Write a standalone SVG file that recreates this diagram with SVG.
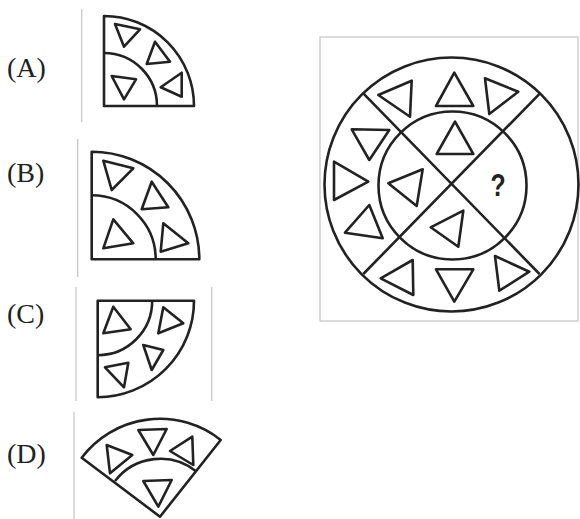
<svg xmlns="http://www.w3.org/2000/svg" width="580" height="519" viewBox="0 0 580 519">
<style>
.lbl{font-family:"Liberation Serif","Times New Roman",serif;font-size:28px;fill:#222}
.s{fill:none;stroke:#222;stroke-width:2.6;stroke-linejoin:round}
.t{fill:#fff;stroke:#222;stroke-width:2.6;stroke-linejoin:round}
.sep{stroke:#c8c8c8;stroke-width:1.3}
.q{font-family:"Liberation Sans",Arial,sans-serif;font-size:31px;font-weight:bold;fill:#222}
</style>
<rect width="580" height="519" fill="#fff"/>

<g id="optA">
<text class="lbl" x="7" y="77">(A)</text>
<line class="sep" x1="81.7" y1="9" x2="81.7" y2="122"/>
<path class="s" d="M104,106 V16 A90,90 0 0 1 194,106 Z"/>
<path class="s" d="M104,53 A53,53 0 0 1 157,106"/>
<polygon class="t" points="115,24 140,29.3 124,46.7"/>
<polygon class="t" points="155,41.7 146.7,64 170,61.7"/>
<polygon class="t" points="111.7,76 136,79.3 124,99.3"/>
<polygon class="t" points="160.7,87.3 181.7,72.7 181.7,96.7"/>
</g>

<g id="optB">
<text class="lbl" x="7" y="181.7">(B)</text>
<line class="sep" x1="77.7" y1="139" x2="77.7" y2="277"/>
<path class="s" d="M91.7,259.3 V151.7 A107.6,107.6 0 0 1 199.3,259.3 Z"/>
<path class="s" d="M91.7,195.3 A64,64 0 0 1 155.7,259.3"/>
<polygon class="t" points="103.3,160.7 133.3,168.3 111.7,190"/>
<polygon class="t" points="151.7,181.7 141.7,209.3 168.3,207.3"/>
<polygon class="t" points="113.3,219.3 103.3,248.3 133.3,243.3"/>
<polygon class="t" points="163.3,223.3 160.7,251.7 188.3,243.3"/>
</g>

<g id="optC">
<text class="lbl" x="7" y="323.3">(C)</text>
<line class="sep" x1="76" y1="286.7" x2="76" y2="401"/>
<line class="sep" x1="211.7" y1="286.7" x2="211.7" y2="401"/>
<path class="s" d="M97.7,300.7 H194 A96.5,96.5 0 0 1 97.7,397.2 Z"/>
<path class="s" d="M152.2,300.7 A54.5,54.5 0 0 1 97.7,355.2"/>
<polygon class="t" points="113.3,306.7 103.3,333.3 130.7,329.3"/>
<polygon class="t" points="163.3,307.3 183.3,323.3 158.3,333.3"/>
<polygon class="t" points="143.3,345 163.3,350 151.7,370"/>
<polygon class="t" points="105,367.3 128.3,362.7 124,387.3"/>
</g>

<g id="optD">
<text class="lbl" x="7" y="463.3">(D)</text>
<line class="sep" x1="74" y1="411.7" x2="74" y2="519"/>
<path class="s" d="M160,516.7 L81.7,457.7 A98,98 0 0 1 220.7,440 Z"/>
<path class="s" d="M115,481 A57.5,57.5 0 0 1 196.7,471.7"/>
<polygon class="t" points="106.7,445 132.3,455 110,473.3"/>
<polygon class="t" points="138.3,430 166.7,429 153.3,455"/>
<polygon class="t" points="170,451 192.3,436.7 193.3,465"/>
<polygon class="t" points="143.3,481 171.7,480 158.3,506.7"/>
</g>

<g id="puzzle">
<rect x="320" y="37" width="258" height="284" fill="none" stroke="#c8c8c8" stroke-width="1.3"/>
<circle class="s" cx="451.5" cy="184.5" r="127"/>
<circle class="s" cx="452.5" cy="185.5" r="74"/>
<line class="s" x1="363.3" y1="93.3" x2="539.5" y2="274"/>
<line class="s" x1="540" y1="93.3" x2="363.3" y2="274"/>
<polygon class="t" points="378.3,95 411.7,80.7 410,116.7"/>
<polygon class="t" points="454.3,72.7 436,106 473.3,106"/>
<polygon class="t" points="485,78.3 518.3,91.7 489.3,114"/>
<polygon class="t" points="351.7,129.3 389.3,130 369.3,160"/>
<polygon class="t" points="334,161.7 334,200 368.3,181.7"/>
<polygon class="t" points="369.3,205 345,232.7 382.7,238.3"/>
<polygon class="t" points="380.7,278.3 412.7,260 413.3,295"/>
<polygon class="t" points="436,269.3 473.3,269.3 454.3,301.7"/>
<polygon class="t" points="495,256 529.3,271.7 499.3,290.7"/>
<polygon class="t" points="455,121.7 436.7,154 473.3,154"/>
<polygon class="t" points="388.3,183.3 422.7,169.3 416.7,206"/>
<polygon class="t" points="430.7,227.3 463.3,210.7 458.3,246.7"/>
<text class="q" x="498" y="196" text-anchor="middle" transform="translate(498 0) scale(0.8 1) translate(-498 0)">?</text>
</g>
</svg>
